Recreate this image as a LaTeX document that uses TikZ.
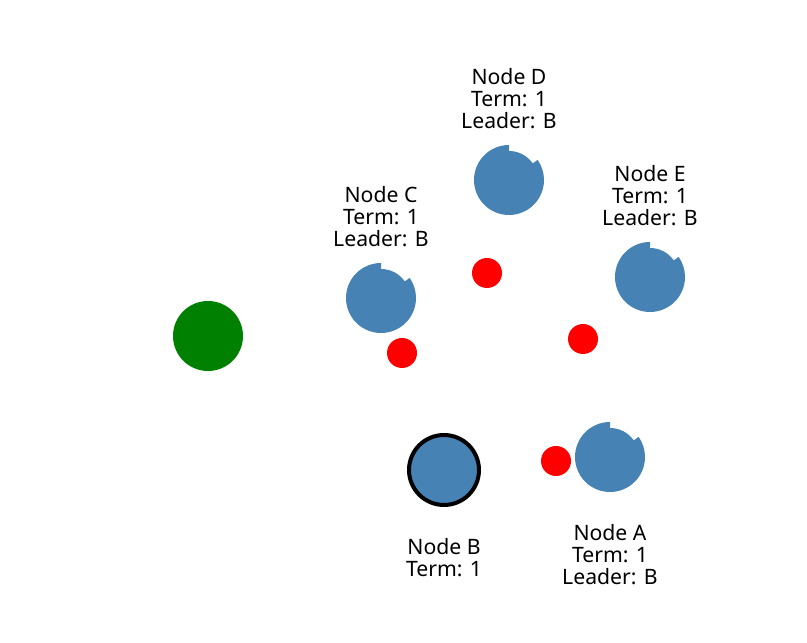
\documentclass[tikz,border=0pt]{standalone}
\usepackage{fontspec}
\setmainfont{Noto Sans}
\usetikzlibrary{positioning}
\definecolor{steel}{HTML}{4682B4}
\definecolor{leafgreen}{HTML}{008000}

\begin{document}
\begin{tikzpicture}[x=1pt,y=1pt,
    server/.style={circle,inner sep=0pt,minimum size=70pt},
    msg/.style={circle,fill=red,inner sep=0pt,minimum size=30pt},
    info/.style={align=center,inner sep=0pt,font=\fontsize{21.2}{21.8}\selectfont}]
  \useasboundingbox (0,0) rectangle (807,643);
  % servers
  \node[server,fill=leafgreen] (g) at (208,307) {};
  \node[server] (c) at (381,345) {};
  \node[server] (d) at (509,463) {};
  \node[server] (e) at (650,366) {};
  \node[server] (a) at (610,186) {};
  \node[server,fill=steel,draw=black,line width=4pt] (b) at (444,173) {};
  \foreach \n in {a,c,d,e} {
    \fill[steel] (\n) ++(90:35) arc[start angle=90,end angle=395,radius=35]
      -- ++(215:6) arc[start angle=35,end angle=90,radius=29] -- cycle;
  }
  % messages
  \node[msg] (m1) at (487,370) {};
  \node[msg] (m2) at (402,290) {};
  \node[msg] (m3) at (583,304) {};
  \node[msg] (m4) at (556,182) {};
  % labels
  \node[info,above=16pt of c] (lc) {Node C\\Term: 1\\Leader: B};
  \node[info,above=16pt of d] (ld) {Node D\\Term: 1\\Leader: B};
  \node[info,above=16pt of e] (le) {Node E\\Term: 1\\Leader: B};
  \node[info,below=32pt of a] (la) {Node A\\Term: 1\\Leader: B};
  \node[info,below=31pt of b] (lb) {Node B\\Term: 1};
\end{tikzpicture}
\end{document}
